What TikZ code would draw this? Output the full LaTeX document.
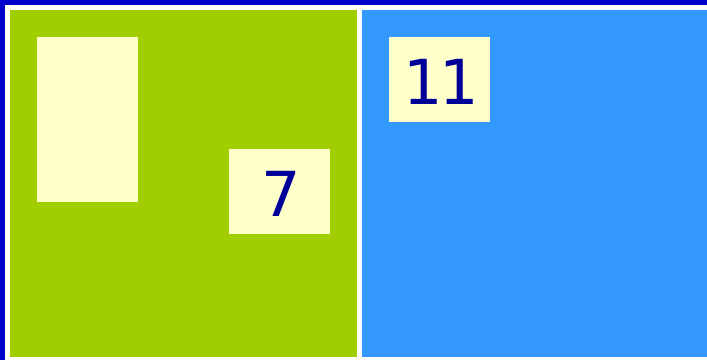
\documentclass[tikz,border=0pt]{standalone}
\usepackage{fontspec}
\setmainfont{DejaVu Sans}
\definecolor{frameblue}{HTML}{0000CC}
\definecolor{leafgreen}{HTML}{A0CE00}
\definecolor{skyblue}{HTML}{3399FF}
\definecolor{creamy}{HTML}{FFFFCC}
\definecolor{navytext}{HTML}{000099}
\begin{document}
\begin{tikzpicture}[x=1pt,y=-1pt,
  cream/.style={fill=creamy,draw=none},
  numtext/.style={text=navytext,font=\fontsize{62}{62}\selectfont,inner sep=0pt,anchor=base}]
\useasboundingbox (0,0) rectangle (707,360);
\fill[frameblue] (0,0) rectangle (707,360);
\fill[white] (5,5) rectangle (707,360);
\fill[leafgreen] (10,10) rectangle (357,357);
\fill[skyblue] (362,10) rectangle (707,357);
\fill[cream] (37,37) rectangle (138,202);
\fill[cream] (229,149) rectangle (330,234);
\fill[cream] (389,37) rectangle (490,122);
\node[numtext] (seven) at (281,216.5) {7};
\node[numtext] (eleven) at (441,104) {1\kern-3.5pt 1};
\end{tikzpicture}
\end{document}
